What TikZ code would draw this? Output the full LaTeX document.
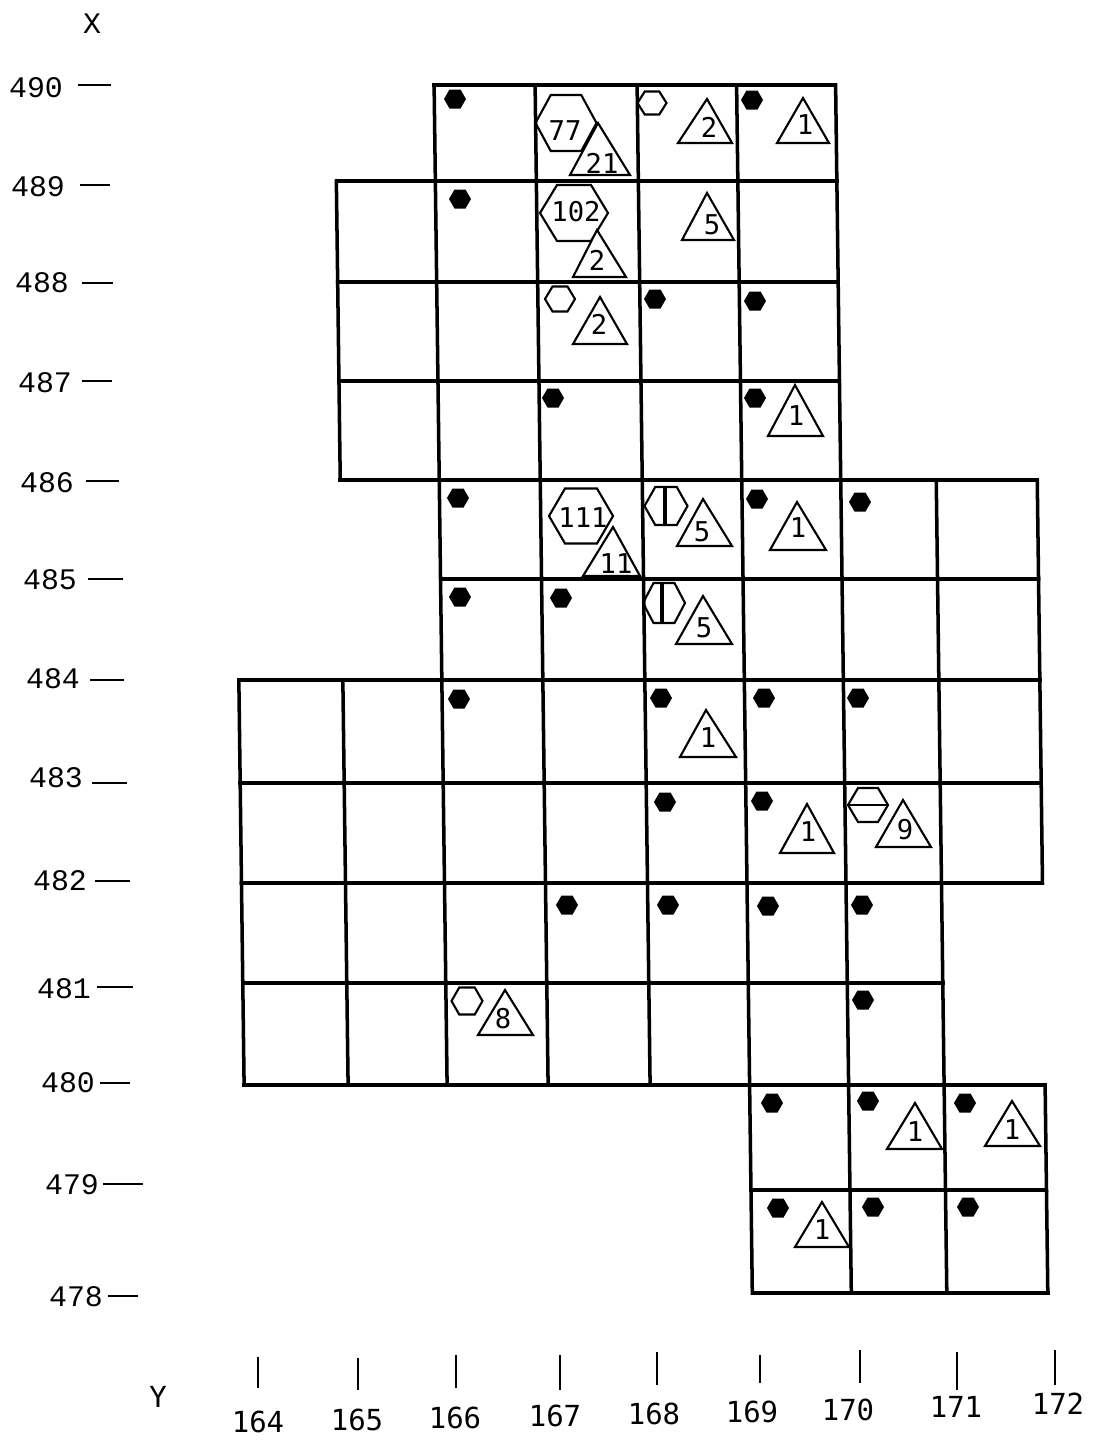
\documentclass[tikz,border=0pt]{standalone}
\usepackage{fontspec}
\newfontfamily\axfont{Liberation Mono}
\newfontfamily\mkfont{DejaVu Sans Mono}
\newcommand\HexP[5]{\path[#5] ({#1-#3},{#2}) -- ({#1-#3/2},{#2-#4}) -- ({#1+#3/2},{#2-#4}) -- ({#1+#3},{#2}) -- ({#1+#3/2},{#2+#4}) -- ({#1-#3/2},{#2+#4}) -- cycle;}
\newcommand\FHex[2]{\HexP{#1}{#2}{11}{9.5}{fill=black}}
\newcommand\OHex[4]{\HexP{#1}{#2}{#3}{#4}{draw,markline}}
\newcommand\Tri[5]{\path[draw,fill=white,markline] (#1,#2) -- (#3,#5) -- (#4,#5) -- cycle;}
\begin{document}
\begin{tikzpicture}[x=0.02cm,y=-0.02cm,
  gridline/.style={line width=2pt, line cap=rect},
  markline/.style={line width=1.2pt, line join=miter},
  mnum/.style={font=\mkfont\fontsize{15.5}{16}\selectfont, inner sep=0pt},
  axlab/.style={font=\axfont\fontsize{17}{18}\selectfont, inner sep=0pt},
  ylab/.style={font=\mkfont\fontsize{16.5}{17}\selectfont, inner sep=0pt},
  tickline/.style={line width=1.4pt}]

\useasboundingbox[fill=white] (0,0) rectangle (1092,1440);

% grid points (hand-drawn grid, slightly slanted)
\begin{scope}[xslant=-0.013]
\foreach \c/\x in {164/230,165/334,166/433,167/534,168/636,169/735.5,170/834.5,171/930,172/1031}{
  \foreach \r/\y in {490/85,489/181,488/282,487/381,486/480,485/579,484/680,483/783,482/883,481/983,480/1085,479/1190,478/1293}{
    \coordinate (g\c-\r) at (\x,\y);
  }
}
\end{scope}

\foreach \r/\rn/\cl/\cr in {490/489/166/170, 489/488/165/170, 488/487/165/170, 487/486/165/170,
  486/485/166/172, 485/484/166/172, 484/483/164/172, 483/482/164/172,
  482/481/164/171, 481/480/164/171, 480/479/169/172, 479/478/169/172}{
  \draw[gridline] (g\cl-\r) -- (g\cr-\r);
  \draw[gridline] (g\cl-\rn) -- (g\cr-\rn);
  \foreach \c in {\cl,...,\cr}{\draw[gridline] (g\c-\r) -- (g\c-\rn);}
}

% ---- markers ----
% band 490
\FHex{455}{99}
\OHex{566}{123}{30.5}{28}
\Tri{598}{123}{570}{630}{175}
\OHex{652}{103}{14.5}{11.5}
\Tri{707}{99}{678}{732}{143}
\FHex{752}{100}
\Tri{803}{98}{777}{829}{143}
\node[mnum] (n77) at (565,131) {77};
\node[mnum] (n21) at (602,163) {21};
\node[mnum] (n2a) at (709,127) {2};
\node[mnum] (n1a) at (805,125) {1};
% band 489
\FHex{460}{199}
\OHex{574}{213}{34}{28}
\Tri{597}{230}{573}{626}{277}
\Tri{707}{193}{682}{734}{240}
\node[mnum] (n102) at (576,212) {102};
\node[mnum] (n2b) at (597,260) {2};
\node[mnum] (n5a) at (712,225) {5};
% band 488
\OHex{560}{299}{15}{12.5}
\Tri{600}{297}{573}{627}{344}
\FHex{655}{299}
\FHex{755}{301}
\node[mnum] (n2c) at (599,324) {2};
% band 487
\FHex{553}{398}
\FHex{755}{398}
\Tri{795}{385}{768}{823}{436}
\node[mnum] (n1b) at (796,416) {1};
% band 486
\FHex{458}{498}
\OHex{581}{516}{32}{27.5}
\Tri{613}{527}{583}{640}{576}
\OHex{666}{506}{21.5}{19}
\draw[line width=2.6pt] (665,487) -- (665,525);
\Tri{703}{499}{677}{732}{546}
\FHex{757}{499}
\Tri{797}{502}{770}{826}{550}
\FHex{860}{502}
\node[mnum] (n111) at (583,518) {111};
\node[mnum] (n11) at (616,564) {11};
\node[mnum] (n5b) at (702,532) {5};
\node[mnum] (n1c) at (798,528) {1};
% band 485
\FHex{460}{597}
\FHex{561}{598}
\OHex{664}{603}{21}{20}
\draw[line width=2.6pt] (662,583) -- (662,623);
\Tri{703}{596}{676}{732}{644}
\node[mnum] (n5c) at (704,628) {5};
% band 484
\FHex{459}{699}
\FHex{661}{698}
\Tri{706}{710}{680}{736}{757}
\FHex{764}{698}
\FHex{858}{698}
\node[mnum] (n1d) at (708,738) {1};
% band 483
\FHex{665}{802}
\FHex{762}{801}
\Tri{807}{804}{780}{834}{853}
\OHex{868}{805}{20}{17}
\draw[markline] (848,805) -- (888,805);
\Tri{903}{800}{876}{931}{847}
\node[mnum] (n1e) at (808,832) {1};
\node[mnum] (n9) at (905,830) {9};
% band 482
\FHex{567}{905}
\FHex{668}{905}
\FHex{768}{906}
\FHex{862}{905}
% band 481
\OHex{467}{1001}{15.5}{13.5}
\Tri{505}{990}{478}{533}{1035}
\FHex{863}{1000}
\node[mnum] (n8) at (503,1019) {8};
% band 480
\FHex{772}{1103}
\FHex{868}{1101}
\Tri{915}{1103}{887}{942}{1149}
\FHex{965}{1103}
\Tri{1012}{1101}{985}{1040}{1146}
\node[mnum] (n1f) at (915,1132) {1};
\node[mnum] (n1g) at (1012,1130) {1};
% band 479
\FHex{778}{1208}
\Tri{822}{1202}{795}{849}{1247}
\FHex{873}{1207}
\FHex{968}{1207}
\node[mnum] (n1h) at (822,1230) {1};

% ---- X axis (left) ----
\node[axlab] (xt) at (92,24) {X};
\foreach \lab/\tx/\ty/\da/\db/\dy in {490/36/88/78/111/85, 489/38/187/80/110/185, 488/42/283/82/113/283,
  487/45/383/82/112/381, 486/47/483/86/119/481, 485/50/580/88/123/579, 484/53/679/90/124/680,
  483/56/778/92/127/783, 482/60/881/95/130/881, 481/64/989/97/133/987, 480/68/1083/100/130/1083,
  479/72/1185/103/143/1184, 478/76/1297/108/138/1296}{
  \node[axlab] (xl\lab) at (\tx,\ty) {\lab};
  \draw[tickline] (\da,\dy) -- (\db,\dy);
}

% ---- Y axis (bottom) ----
\node[ylab] (yt) at (158,1397) {Y};
\foreach \lab/\tx/\ty in {164/258/1422, 165/357/1420, 166/455/1418,
  167/555/1416, 168/654/1414, 169/752/1412, 170/848/1410,
  171/956/1407, 172/1058/1404}{
  \node[ylab] (yl\lab) at (\tx,\ty) {\lab};
}
\foreach \tkx/\ya/\yb in {258/1357/1388, 358/1358/1390, 456/1355/1388, 560/1355/1390, 657/1352/1385,
  760/1355/1383, 860/1350/1383, 957/1352/1390, 1055/1350/1385}{
  \draw[tickline] (\tkx,\ya) -- (\tkx,\yb);
}
\end{tikzpicture}
\end{document}
